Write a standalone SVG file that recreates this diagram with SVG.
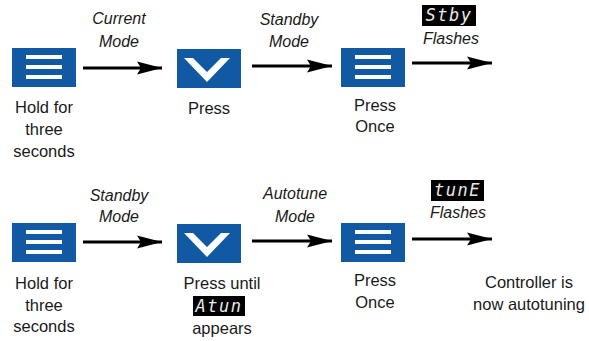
<svg xmlns="http://www.w3.org/2000/svg" width="589" height="341" viewBox="0 0 589 341">
<style>
.box{fill:#115aa3}
.w{fill:#ffffff}
.lbl{font-family:"Liberation Sans",Arial,sans-serif;font-size:16.5px;fill:#1a1a1a;text-anchor:middle}
.it{font-family:"Liberation Sans",Arial,sans-serif;font-size:16px;font-style:italic;fill:#1a1a1a;text-anchor:middle}
.disp{fill:#000000}
.seg{font-family:"DejaVu Sans Mono",monospace;font-size:17px;font-style:italic;fill:#e8e8e8;text-anchor:middle;letter-spacing:1.5px}
.conn{stroke:#000000;stroke-width:3;fill:none}
</style>
<defs>
<marker id="ah" markerUnits="userSpaceOnUse" markerWidth="30" markerHeight="16" viewBox="-26 -8 28 16" refX="0" refY="0" orient="auto">
<path d="M0,0 L-25,-6.5 L-21,0 L-25,6.5 Z" fill="#000000"/>
</marker>
<g id="menuIcon">
<rect class="box" x="0" y="0" width="64" height="39"/>
<rect class="w" x="14" y="7" width="36" height="4"/>
<rect class="w" x="14" y="17" width="36" height="4"/>
<rect class="w" x="14" y="27" width="36" height="4"/>
</g>
<g id="downIcon">
<rect class="box" x="0" y="0" width="64" height="39"/>
<path class="w" fill-rule="evenodd" d="M7,9 L53,9 L30,33 Z M16,9 L44,9 L30,23 Z"/>
</g>
</defs>

<g id="connectors">
<line class="conn" x1="83" y1="68" x2="162" y2="68" marker-end="url(#ah)"/>
<line class="conn" x1="252" y1="66" x2="332" y2="66" marker-end="url(#ah)"/>
<line class="conn" x1="412" y1="63" x2="492" y2="63" marker-end="url(#ah)"/>
<line class="conn" x1="83" y1="242" x2="162" y2="242" marker-end="url(#ah)"/>
<line class="conn" x1="252" y1="241" x2="332" y2="241" marker-end="url(#ah)"/>
<line class="conn" x1="412" y1="239" x2="492" y2="239" marker-end="url(#ah)"/>
</g>

<g id="labels">
<text class="it" x="119" y="24">Current</text>
<text class="it" x="119" y="47">Mode</text>
<text class="it" x="289" y="25">Standby</text>
<text class="it" x="289" y="47">Mode</text>
<rect class="disp" x="422" y="5" width="54" height="21"/>
<text class="seg" x="449" y="21">Stby</text>
<text class="it" x="451" y="44">Flashes</text>

<text class="it" x="119" y="201">Standby</text>
<text class="it" x="119" y="222">Mode</text>
<text class="it" x="295" y="199">Autotune</text>
<text class="it" x="295" y="222">Mode</text>
<rect class="disp" x="431" y="180" width="53" height="21"/>
<text class="seg" x="457.5" y="196">tunE</text>
<text class="it" x="458" y="218">Flashes</text>
</g>

<g id="n1">
<use href="#menuIcon" x="12" y="48"/>
<text class="lbl" x="44" y="113">Hold for</text>
<text class="lbl" x="44" y="135">three</text>
<text class="lbl" x="44" y="157">seconds</text>
</g>
<g id="n2">
<use href="#downIcon" x="177" y="49"/>
<text class="lbl" x="209" y="114">Press</text>
</g>
<g id="n3">
<use href="#menuIcon" x="341" y="48"/>
<text class="lbl" x="375" y="111">Press</text>
<text class="lbl" x="375" y="132">Once</text>
</g>

<g id="n4">
<use href="#menuIcon" x="12" y="223"/>
<text class="lbl" x="44" y="289">Hold for</text>
<text class="lbl" x="44" y="311">three</text>
<text class="lbl" x="44" y="332">seconds</text>
</g>
<g id="n5">
<use href="#downIcon" x="177" y="224"/>
<text class="lbl" x="222" y="289">Press until</text>
<rect class="disp" x="193" y="296" width="52" height="20"/>
<text class="seg" x="219" y="312">Atun</text>
<text class="lbl" x="222" y="334">appears</text>
</g>
<g id="n6">
<use href="#menuIcon" x="341" y="223"/>
<text class="lbl" x="375" y="286">Press</text>
<text class="lbl" x="375" y="308">Once</text>
</g>
<g id="n7">
<text class="lbl" x="529" y="288">Controller is</text>
<text class="lbl" x="529" y="310">now autotuning</text>
</g>
</svg>
